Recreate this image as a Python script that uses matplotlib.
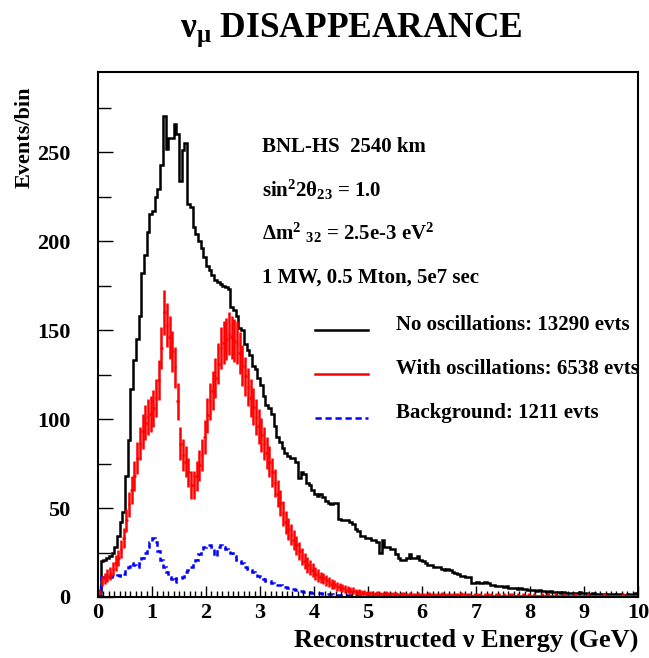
import numpy as np
import matplotlib
matplotlib.use("Agg")
import matplotlib.pyplot as plt
from matplotlib.lines import Line2D
from matplotlib.ticker import MultipleLocator


# 200 bins of 0.05 GeV from 0 to 10 GeV
E_MIN, E_MAX, N_BINS = 0.0, 10.0, 200

NO_OSC = [
    3, 20, 21, 22, 23, 25, 28, 34, 42, 48,
    68, 88, 117, 133, 145, 158, 182, 192, 205, 215,
    217, 225, 229, 243, 270, 252, 258, 258, 266, 260,
    234, 251, 255, 221, 219, 208, 204, 200, 196, 191,
    186, 184, 181, 178, 177, 176, 175, 174, 173, 163,
    161, 158, 151, 150, 142, 139, 136, 130, 128, 123,
    119, 113, 108, 106, 103, 96, 90, 87, 84, 81,
    79, 78, 78, 76, 67, 70, 69, 64, 63, 60,
    58, 57, 58, 56, 54, 53, 52, 53, 53, 44,
    43, 43, 43, 42, 41, 38, 37, 34, 34, 33,
    33, 32, 32, 31, 25, 32, 28, 28, 27, 27,
    24, 22, 21, 21, 22, 24, 22, 22, 23, 21,
    20, 19, 18, 18, 17, 17, 17, 16, 15, 16,
    15, 14, 13.5, 13, 12, 12, 11, 11, 8, 8,
    8.5, 8, 8, 8.5, 8, 7, 6.5, 6, 6, 6,
    5.5, 6, 5, 5, 5, 4.5, 5, 4.5, 4.5, 4,
    4, 4, 3.5, 4, 3.5, 3.5, 3, 3.5, 3, 3,
    3, 2.5, 3, 2.5, 2.5, 2, 2.5, 2, 3, 2,
    2, 1.5, 1.5, 2, 1.5, 1.5, 1.5, 1.5, 1, 1.5,
    1.5, 1, 1.5, 1.5, 1, 1, 1.5, 1, 1.5, 2,
]

WITH_OSC = [
    3, 9, 10.5, 12, 13, 15.5, 19, 22, 27, 33,
    43, 52, 60, 68, 78, 86, 93, 98, 101, 103,
    106, 112, 122, 140, 160, 153, 146, 138, 129, 110,
    86, 80, 76, 70, 63, 63, 68, 74, 80, 90,
    102, 110, 116, 123, 131, 140, 143, 145, 148, 146,
    144, 143, 137, 130, 124, 118, 112, 107, 101, 96,
    91, 86, 81, 76, 70, 64, 58, 53, 47, 42,
    38, 35, 32, 29, 26, 23, 20, 18, 16.5, 15,
    13, 12, 11, 10.5, 9.5, 8.5, 7.5, 7, 6, 5.5,
    5, 4.5, 4, 3.5, 3.5, 3, 3, 2.5, 2.5, 2,
    2, 2, 1.5, 2, 1.5, 1.5, 2, 1.5, 1.5, 1.5,
    1.5, 1, 1.5, 1.5, 1, 1.5, 1, 1, 1.5, 1,
    1, 1, 1.5, 1, 1, 1, 1, 1.5, 1, 1,
    1, 1, 1, 1, 1.5, 1, 1, 1, 0.5, 1,
    1, 1, 0.5, 1, 1, 1, 0.5, 1, 1, 0.5,
    1, 0.5, 1, 1, 0.5, 1, 0.5, 1, 0.5, 1,
    0.5, 1, 0.5, 0.5, 1, 0.5, 1, 0.5, 0.5, 1,
    0.5, 0.5, 1, 0.5, 0.5, 0.5, 1, 0.5, 0.5, 0.5,
    0.5, 1, 0.5, 0.5, 0.5, 0.5, 0.5, 1, 0.5, 0.5,
    0.5, 0.5, 0.5, 0.5, 1, 0.5, 0.5, 0.5, 0.5, 0.5,
]

BACKGROUND = [
    1, 11, 11, 11, 11.5, 12, 12, 12.5, 12, 13,
    16, 17, 19, 18, 17, 19, 22, 25, 28, 31,
    33, 31, 26, 21, 17, 14, 11, 10, 8.6, 10.5,
    10.5, 11.5, 14, 15, 17, 19, 21, 24, 26, 28,
    29, 29, 28, 23, 28, 29, 28, 27, 26, 25,
    23, 21, 20, 19, 17, 16, 15, 14, 13, 12,
    11, 10, 9, 9, 8, 7.5, 7, 6.5, 6, 5.5,
    5, 5, 4.5, 4, 3.5, 3.2, 3, 3, 2.8, 2.5,
    2.2, 2, 2, 1.8, 1.7, 1.5, 1.5, 1.3, 1.2, 1,
    1, 1, 1, 0.9, 0.9, 0.8, 0.8, 0.8, 0.7, 0.7,
    0.7, 0.6, 0.6, 0.6, 0.6, 0.5, 0.6, 0.5, 0.5, 0.5,
    0.5, 0.5, 0.4, 0.5, 0.4, 0.4, 0.4, 0.4, 0.4, 0.4,
    0.4, 0.3, 0.4, 0.3, 0.3, 0.3, 0.3, 0.3, 0.3, 0.3,
    0.3, 0.3, 0.3, 0.3, 0.2, 0.3, 0.3, 0.2, 0.3, 0.2,
    0.3, 0.2, 0.2, 0.3, 0.2, 0.2, 0.2, 0.3, 0.2, 0.2,
    0.2, 0.2, 0.2, 0.2, 0.2, 0.3, 0.2, 0.2, 0.2, 0.2,
    0.2, 0.2, 0.2, 0.2, 0.2, 0.2, 0.2, 0.2, 0.2, 0.2,
    0.2, 0.2, 0.2, 0.2, 0.2, 0.2, 0.2, 0.2, 0.2, 0.2,
    0.2, 0.2, 0.2, 0.2, 0.2, 0.2, 0.2, 0.2, 0.2, 0.2,
    0.2, 0.2, 0.2, 0.2, 0.2, 0.2, 0.2, 0.2, 0.2, 0.2,
]

INFO_LINES = [
    "BNL-HS  2540 km",
    r"sin$^{2}$2$\theta_{23}$ = 1.0",
    r"$\Delta$m$^{2}$ $_{32}$ = 2.5e-3 eV$^{2}$",
    "1 MW, 0.5 Mton, 5e7 sec",
]
LEGEND_LABELS = [
    "No oscillations: 13290 evts",
    "With oscillations: 6538 evts",
    "Background: 1211 evts",
]


plt.rcParams["font.family"] = ["Liberation Serif", "DejaVu Serif"]
plt.rcParams["font.weight"] = "bold"
plt.rcParams["mathtext.fontset"] = "custom"
plt.rcParams["mathtext.rm"] = "Liberation Serif:bold"
plt.rcParams["mathtext.it"] = "Liberation Serif:bold"
plt.rcParams["mathtext.bf"] = "Liberation Serif:bold"
plt.rcParams["mathtext.sf"] = "Liberation Serif"

W, H = 649, 658

edges = np.linspace(E_MIN, E_MAX, N_BINS + 1)
centers = 0.5 * (edges[:-1] + edges[1:])
no_osc = np.array(NO_OSC, dtype=float)
with_osc = np.array(WITH_OSC, dtype=float)
bkg = np.array(BACKGROUND, dtype=float)

fig = plt.figure(figsize=(W / 100, H / 100), dpi=100)
ax = fig.add_axes([98 / W, 61 / H, 540 / W, 525 / H])

ax.stairs(no_osc, edges, color="black", lw=1.8)
ax.errorbar(centers, with_osc, xerr=0.025, yerr=np.sqrt(with_osc),
            fmt="none", ecolor="red", elinewidth=1.8)
ax.stairs(bkg, edges, color="blue", lw=1.8, linestyle=(0, (2.5, 1.5)))

ax.set_xlim(E_MIN, E_MAX)
ax.set_ylim(0, 295)
ax.xaxis.set_major_locator(MultipleLocator(1))
ax.xaxis.set_minor_locator(MultipleLocator(0.1))
ax.yaxis.set_major_locator(MultipleLocator(50))
ax.yaxis.set_minor_locator(MultipleLocator(25))
ax.tick_params(which="both", direction="in", top=False, right=False, width=1)
ax.tick_params(axis="x", which="major", length=8, labelsize=16, pad=4)
ax.tick_params(axis="x", which="minor", length=4)
ax.tick_params(axis="y", which="major", length=11, labelsize=16, pad=20)
ax.tick_params(axis="y", which="minor", length=9)
for sp in ax.spines.values():
    sp.set_linewidth(1.5)

# titles
fig.text(351 / W, 1 - 37 / H, r"$\mathsf{\nu_{\mu}}$ DISAPPEARANCE",
         fontsize=25.5, ha="center", va="baseline")
fig.text(25 / W, 1 - 86 / H, "Events/bin", fontsize=16, rotation=90,
         ha="center", va="top")
fig.text(638 / W, 1 - 647 / H, "Reconstructed \u03bd Energy (GeV)",
         fontsize=19, ha="right", va="baseline")

# info block
for k, line in enumerate(INFO_LINES):
    y = [152, 197, 240, 283][k]
    fig.text(262 / W, 1 - y / H, line, fontsize=15, va="baseline")

# hand made legend
leg_styles = [
    dict(color="black", lw=1.8),
    dict(color="red", lw=1.8),
    dict(color="blue", lw=1.8, linestyle=(0, (2.5, 1.5))),
]
for k, label in enumerate(LEGEND_LABELS):
    y = [330, 374, 418][k]
    fig.add_artist(Line2D([315 / W, 368 / W], [1 - y / H, 1 - y / H],
                          transform=fig.transFigure, **leg_styles[k]))
    fig.text(396 / W, 1 - y / H, label, fontsize=15, va="baseline")

fig.savefig("out.png", dpi=100)
plt.close(fig)
